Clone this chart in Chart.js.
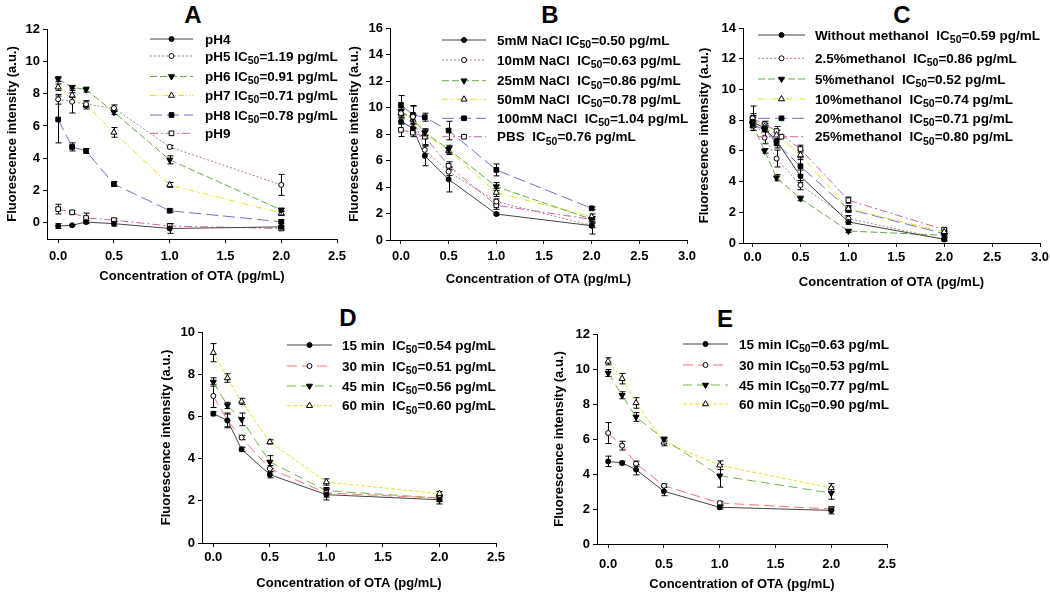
<!DOCTYPE html>
<html>
<head>
<meta charset="utf-8">
<script src="https://cdn.jsdelivr.net/npm/chart.js@4/dist/chart.umd.min.js"></script>
<style>
html, body { margin: 0; padding: 0; background: #fff; width: 1050px; height: 593px; overflow: hidden; }
canvas { position: absolute; }
.letter { position: absolute; font: bold 24px "Liberation Sans", Arial, sans-serif; line-height: 1; transform: translate(-50%, -50%); color: #000; }
</style>
</head>
<body>
<div class="letter" style="left:193px;top:15px">A</div>
<div class="letter" style="left:550px;top:15px">B</div>
<div class="letter" style="left:902px;top:15px">C</div>
<div class="letter" style="left:348px;top:318px">D</div>
<div class="letter" style="left:725px;top:319px">E</div>
<canvas id="cA"></canvas>
<canvas id="cB"></canvas>
<canvas id="cC"></canvas>
<canvas id="cD"></canvas>
<canvas id="cE"></canvas>
<script>
// OTA concentrations (pg/mL)
var doses = [0, 0.125, 0.25, 0.5, 1, 2];

// A - pH
var labelsA = ['pH4', 'pH5 IC50=1.19 pg/mL', 'pH6 IC50=0.91 pg/mL', 'pH7 IC50=0.71 pg/mL', 'pH8 IC50=0.78 pg/mL', 'pH9'];
var pH4 = [-0.2, -0.15, 0.05, -0.05, -0.35, -0.25];
var pH5 = [7.65, 7.5, 7.35, 7.1, 4.7, 2.35];
var pH6 = [8.9, 8.4, 8.25, 6.85, 3.9, 0.8];
var pH7 = [8.4, 7.9, 7.3, 5.6, 2.35, 0.6];
var pH8 = [6.4, 4.7, 4.45, 2.4, 0.75, 0.07];
var pH9 = [0.85, 0.65, 0.3, 0.17, -0.2, -0.35];
var errA = [
  [0.15, 0.05, 0.1, 0.15, 0.3, 0.1],
  [0.3, 0.7, 0.2, 0.2, 0.1, 0.65],
  [0.15, 0.1, 0.15, 0.15, 0.25, 0.1],
  [0.2, 0.15, 0.25, 0.3, 0.15, 0.15],
  [1.45, 0.25, 0.15, 0.15, 0.1, 0.1],
  [0.3, 0.1, 0.3, 0.1, 0.15, 0.1]
];

// B - NaCl
var labelsB = ['5mM NaCl IC50=0.50 pg/mL', '10mM NaCl  IC50=0.63 pg/mL', '25mM NaCl  IC50=0.86 pg/mL', '50mM NaCl  IC50=0.78 pg/mL', '100mM NaCl  IC50=1.04 pg/mL', 'PBS  IC50=0.76 pg/mL'];
var nacl5 = [8.94, 8.44, 6.35, 4.58, 1.96, 1.08];
var nacl10 = [9.57, 9.3, 6.8, 5.16, 2.9, 1.1];
var nacl25 = [9.7, 9.2, 8.1, 6.85, 4.03, 1.56];
var nacl50 = [9.57, 9.1, 8.0, 6.75, 3.58, 1.76];
var nacl100 = [10.2, 9.45, 9.27, 8.26, 5.29, 2.39];
var pbs = [8.31, 8.1, 7.8, 5.6, 2.62, 1.56];
var errB = [
  [0.2, 0.3, 0.75, 0.95, 0.1, 0.15],
  [0.3, 0.8, 0.3, 0.3, 0.2, 0.65],
  [0.3, 0.3, 0.2, 0.3, 0.3, 0.2],
  [0.3, 0.3, 0.3, 0.3, 0.3, 0.2],
  [0.7, 0.7, 0.3, 0.7, 0.45, 0.1],
  [0.5, 0.3, 0.6, 0.3, 0.3, 0.2]
];

// C - methanol
var labelsC = ['Without methanol  IC50=0.59 pg/mL', '2.5%methanol  IC50=0.86 pg/mL', '5%methanol  IC50=0.52 pg/mL', '10%methanol  IC50=0.74 pg/mL', '20%methanol  IC50=0.71 pg/mL', '25%methanol  IC50=0.80 pg/mL'];
var meoh0 = [7.9, 7.47, 6.64, 4.35, 1.37, 0.24];
var meoh2 = [8.12, 6.86, 5.5, 3.77, 1.59, 0.24];
var meoh5 = [7.73, 6.0, 4.25, 2.9, 0.78, 0.5];
var meoh10 = [8.0, 7.58, 7.03, 5.73, 2.24, 0.72];
var meoh20 = [7.64, 7.42, 6.49, 5.0, 2.2, 0.61];
var meoh25 = [8.12, 7.73, 7.29, 6.12, 2.79, 0.87];
var errC = [
  [0.3, 0.2, 0.3, 0.4, 0.15, 0.1],
  [0.8, 0.4, 0.55, 0.3, 0.2, 0.1],
  [0.2, 0.15, 0.2, 0.15, 0.1, 0.1],
  [0.3, 0.2, 0.3, 0.3, 0.2, 0.1],
  [0.3, 0.2, 0.3, 0.55, 0.2, 0.1],
  [0.3, 0.2, 0.3, 0.25, 0.2, 0.1]
];

// D - incubation time
var labelsD = ['15 min  IC50=0.54 pg/mL', '30 min  IC50=0.51 pg/mL', '45 min  IC50=0.56 pg/mL', '60 min  IC50=0.60 pg/mL'];
var d15 = [6.13, 5.81, 4.44, 3.24, 2.29, 2.05];
var d30 = [6.97, 5.81, 5.0, 3.52, 2.37, 2.13];
var d45 = [7.63, 6.52, 5.86, 3.84, 2.48, 2.13];
var d60 = [9.02, 7.82, 6.71, 4.79, 2.89, 2.34];
var errD = [
  [0.1, 0.35, 0.1, 0.15, 0.25, 0.2],
  [0.55, 0.3, 0.1, 0.15, 0.2, 0.15],
  [0.2, 0.15, 0.3, 0.3, 0.15, 0.15],
  [0.43, 0.2, 0.15, 0.1, 0.15, 0.1]
];

// E - incubation time
var labelsE = ['15 min IC50=0.63 pg/mL', '30 min IC50=0.53 pg/mL', '45 min IC50=0.77 pg/mL', '60 min IC50=0.90 pg/mL'];
var e15 = [4.72, 4.63, 4.25, 3.01, 2.1, 1.92];
var e30 = [6.34, 5.62, 4.59, 3.33, 2.34, 2.0];
var e45 = [9.77, 8.5, 7.26, 6.0, 3.9, 2.91];
var e60 = [10.44, 9.45, 8.06, 5.81, 4.5, 3.2];
var errE = [
  [0.3, 0.1, 0.3, 0.25, 0.1, 0.2],
  [0.6, 0.25, 0.15, 0.1, 0.1, 0.1],
  [0.2, 0.2, 0.25, 0.1, 0.65, 0.35],
  [0.2, 0.3, 0.3, 0.2, 0.25, 0.25]
];

// tick labels
var xTicksShort = [0, 0.5, 1, 1.5, 2, 2.5];
var xTicksLong = [0, 0.5, 1, 1.5, 2, 2.5, 3];
var yTicksA = [0, 2, 4, 6, 8, 10, 12];
var yTicksB = [0, 2, 4, 6, 8, 10, 12, 14, 16];
var yTicksC = [0, 2, 4, 6, 8, 10, 12, 14];
var yTicksD = [0, 2, 4, 6, 8, 10];
var yTicksE = [0, 2, 4, 6, 8, 10, 12];

var FONT = '"Liberation Sans", Arial, sans-serif';

// sigmaplot-like line / symbol styles
var sixStyles = [
  {color: '#444444', dash: [], shape: 'circle', fill: '#000', r: 2.5, rot: 0},
  {color: '#b08080', dash: [2, 2], shape: 'circle', fill: '#fff', r: 2.5, rot: 0},
  {color: '#60b040', dash: [7, 3], shape: 'triangle', fill: '#000', r: 3.5, rot: 180},
  {color: '#e0e020', dash: [6, 2, 1, 2, 1, 2], shape: 'triangle', fill: '#fff', r: 3.5, rot: 0},
  {color: '#7070c8', dash: [12, 5], shape: 'rect', fill: '#000', r: 3.3, rot: 0},
  {color: '#d060b0', dash: [8, 3, 2, 3], shape: 'rect', fill: '#fff', r: 3.3, rot: 0}
];
var fourStyles = [
  {color: '#444444', dash: [], shape: 'circle', fill: '#000', r: 2.5, rot: 0},
  {color: '#ff7070', dash: [10, 5], shape: 'circle', fill: '#fff', r: 2.5, rot: 0},
  {color: '#70b840', dash: [9, 5], shape: 'triangle', fill: '#000', r: 3.5, rot: 180},
  {color: '#e8e030', dash: [4, 2], shape: 'triangle', fill: '#fff', r: 3.5, rot: 0}
];

function buildSets(labels, series, errs, styles) {
  return series.map(function (vals, i) {
    var st = styles[i];
    return {
      label: labels[i],
      data: doses.map(function (x, j) { return {x: x, y: vals[j]}; }),
      errors: errs[i],
      borderColor: st.color,
      borderDash: st.dash,
      borderWidth: 1,
      pointStyle: st.shape,
      pointRadius: st.r,
      pointRotation: st.rot,
      pointBackgroundColor: st.fill,
      pointBorderColor: '#000',
      pointBorderWidth: 1,
      tension: 0,
      fill: false
    };
  });
}

var errorBars = {
  id: 'errorBars',
  beforeDatasetsDraw: function (chart) {
    var ctx = chart.ctx, xs = chart.scales.x, ys = chart.scales.y;
    ctx.save();
    ctx.strokeStyle = '#000';
    ctx.lineWidth = 1;
    chart.data.datasets.forEach(function (ds) {
      ds.data.forEach(function (p, j) {
        var e = ds.errors[j];
        if (!e) return;
        var px = Math.round(xs.getPixelForValue(p.x)) + 0.5;
        var y1 = ys.getPixelForValue(p.y + e), y2 = ys.getPixelForValue(p.y - e);
        ctx.beginPath();
        ctx.moveTo(px, y1); ctx.lineTo(px, y2);
        ctx.moveTo(px - 3, y1); ctx.lineTo(px + 3, y1);
        ctx.moveTo(px - 3, y2); ctx.lineTo(px + 3, y2);
        ctx.stroke();
      });
    });
    ctx.restore();
  }
};

function marker(ctx, shape, r, rot, x, y) {
  ctx.beginPath();
  if (shape === 'circle') {
    ctx.arc(x, y, r, 0, Math.PI * 2);
  } else if (shape === 'rect') {
    var s = r * Math.SQRT1_2;
    ctx.rect(x - s, y - s, 2 * s, 2 * s);
  } else {
    var a = rot * Math.PI / 180;
    for (var k = 0; k < 3; k++) {
      var t = a + k * 2 * Math.PI / 3;
      var px = x + Math.sin(t) * r, py = y - Math.cos(t) * r;
      if (k === 0) ctx.moveTo(px, py); else ctx.lineTo(px, py);
    }
    ctx.closePath();
  }
  ctx.fill();
  ctx.stroke();
}

var sigLegend = {
  id: 'sigLegend',
  afterDraw: function (chart, args, o) {
    var ctx = chart.ctx;
    chart.data.datasets.forEach(function (ds, i) {
      var y = o.rows[i] - o.top;
      var x0 = o.x0 - o.left, x1 = o.x1 - o.left;
      ctx.save();
      ctx.strokeStyle = ds.borderColor;
      ctx.lineWidth = 1;
      ctx.setLineDash(ds.borderDash);
      ctx.beginPath();
      ctx.moveTo(x0, y); ctx.lineTo(x1, y);
      ctx.stroke();
      ctx.setLineDash([]);
      ctx.fillStyle = ds.pointBackgroundColor;
      ctx.strokeStyle = '#000';
      marker(ctx, ds.pointStyle, ds.pointRadius, ds.pointRotation, (x0 + x1) / 2, y);

      ctx.fillStyle = '#000';
      ctx.textAlign = 'left';
      ctx.textBaseline = 'middle';
      var main = 'bold 13.5px ' + FONT, small = 'bold 10.5px ' + FONT;
      var parts = ds.label.split('IC50');
      var tx = o.tx - o.left, ty = y + 1;
      ctx.font = main;
      var head = parts[0] + (parts.length > 1 ? 'IC' : '');
      ctx.fillText(head, tx, ty);
      tx += ctx.measureText(head).width;
      if (parts.length > 1) {
        ctx.font = small;
        ctx.fillText('50', tx, ty + 4);
        tx += ctx.measureText('50').width;
        ctx.font = main;
        ctx.fillText(parts[1], tx, ty);
      }
      ctx.restore();
    });
  }
};

function makePanel(id, box, p) {
  var cv = document.getElementById(id);
  cv.width = box.w; cv.height = box.h;
  cv.style.left = box.left + 'px';
  cv.style.top = box.top + 'px';
  var tickFont = {family: FONT, size: 13, weight: 'bold'};
  var legendOpts = Object.assign({left: box.left, top: box.top}, p.legend);
  return new Chart(cv, {
    type: 'line',
    data: {datasets: p.datasets},
    options: {
      responsive: false,
      animation: false,
      events: [],
      layout: {padding: {left: 0, right: box.pr, top: box.pt, bottom: 0}},
      plugins: {legend: {display: false}, tooltip: {enabled: false}, sigLegend: legendOpts},
      scales: {
        x: {
          type: 'linear', min: p.xMin, max: p.xMax,
          border: {display: true, color: '#000', width: 1},
          grid: {display: true, drawOnChartArea: false, drawTicks: true, tickLength: 4, color: '#000'},
          ticks: {font: tickFont, color: '#000', padding: box.xPad, maxRotation: 0,
                  callback: function (v) { return v.toFixed(1); }},
          title: {display: true, text: 'Concentration of OTA (pg/mL)', color: '#000', font: tickFont, padding: 0},
          afterBuildTicks: function (s) { s.ticks = p.xTicks.map(function (v) { return {value: v}; }); },
          afterFit: function (s) { s.height = box.xh; s.paddingLeft = 0; s.paddingRight = 0; }
        },
        y: {
          type: 'linear', min: p.yMin, max: p.yMax,
          border: {display: true, color: '#000', width: 1},
          grid: {display: true, drawOnChartArea: false, drawTicks: true, tickLength: 4, color: '#000'},
          ticks: {font: tickFont, color: '#000', padding: 3,
                  callback: function (v) { return String(v); }},
          title: {display: true, text: 'Fluorescence intensity (a.u.)', color: '#000', font: tickFont, padding: 0},
          afterBuildTicks: function (s) { s.ticks = p.yTicks.map(function (v) { return {value: v}; }); },
          afterFit: function (s) { s.width = box.yw; s.paddingTop = 0; s.paddingBottom = 0; }
        }
      }
    },
    plugins: [errorBars, sigLegend]
  });
}

makePanel('cA', {left: 5, top: 0, w: 345, h: 284, pr: 13, pt: 29, yw: 42, xh: 45, xPad: 6}, {
  datasets: buildSets(labelsA, [pH4, pH5, pH6, pH7, pH8, pH9], errA, sixStyles),
  xMin: -0.1, xMax: 2.5, yMin: -1, yMax: 12, xTicks: xTicksShort, yTicks: yTicksA,
  legend: {x0: 150, x1: 193, tx: 205, rows: [39, 56, 76.5, 95.5, 115, 133.3]}
});

makePanel('cB', {left: 347, top: 0, w: 353, h: 287, pr: 13, pt: 28, yw: 43, xh: 47, xPad: 5}, {
  datasets: buildSets(labelsB, [nacl5, nacl10, nacl25, nacl50, nacl100, pbs], errB, sixStyles),
  xMin: -0.115, xMax: 3, yMin: 0, yMax: 16, xTicks: xTicksLong, yTicks: yTicksB,
  legend: {x0: 442, x1: 486, tx: 497, rows: [40, 60, 80.7, 99.3, 118.3, 136.7]}
});

makePanel('cC', {left: 697, top: 0, w: 353, h: 290, pr: 10, pt: 28, yw: 46, xh: 47, xPad: 3}, {
  datasets: buildSets(labelsC, [meoh0, meoh2, meoh5, meoh10, meoh20, meoh25], errC, sixStyles),
  xMin: -0.1, xMax: 3, yMin: 0, yMax: 14, xTicks: xTicksLong, yTicks: yTicksC,
  legend: {x0: 758, x1: 805, tx: 815, rows: [35, 58.3, 79, 99, 118.3, 136.7]}
});

makePanel('cD', {left: 159, top: 300, w: 351, h: 291, pr: 14, pt: 32, yw: 43, xh: 48, xPad: 3}, {
  datasets: buildSets(labelsD, [d15, d30, d45, d60], errD, fourStyles),
  xMin: -0.1, xMax: 2.5, yMin: 0, yMax: 10, xTicks: xTicksShort, yTicks: yTicksD,
  legend: {x0: 287, x1: 332, tx: 342, rows: [345, 366, 386, 405.7]}
});

makePanel('cE', {left: 552, top: 300, w: 348, h: 292, pr: 13, pt: 34, yw: 45, xh: 48, xPad: 9}, {
  datasets: buildSets(labelsE, [e15, e30, e45, e60], errE, fourStyles),
  xMin: -0.1, xMax: 2.5, yMin: 0, yMax: 12, xTicks: xTicksShort, yTicks: yTicksE,
  legend: {x0: 683, x1: 728, tx: 739, rows: [344, 365, 385, 404]}
});
</script>
</body>
</html>
